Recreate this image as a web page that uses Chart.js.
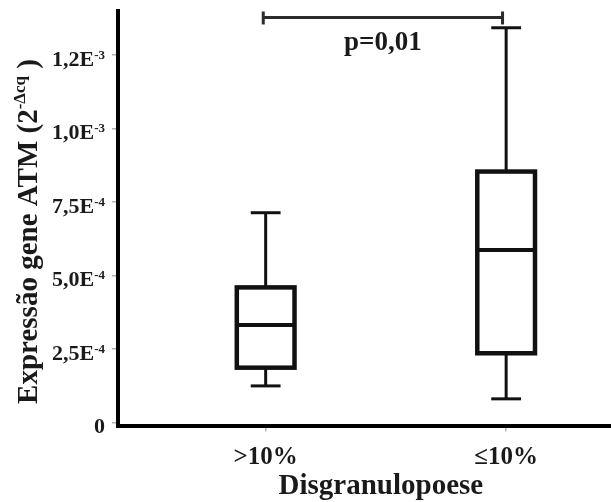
<!DOCTYPE html>
<html>
<head>
<meta charset="utf-8">
<script src="https://cdn.jsdelivr.net/npm/chart.js@4.4.1/dist/chart.umd.min.js"></script>
<style>
  html, body { margin: 0; padding: 0; background: #fff; }
  #wrap { width: 611px; height: 502px; position: relative; }
</style>
</head>
<body>
<div id="wrap"><canvas id="boxChart"></canvas></div>
<script>
// Data
const groups = ['>10%', '≤10%'];
const whiskerLow = [1.25e-4, 0.81e-4];
const q1 = [1.87e-4, 2.36e-4];
const median = [3.32e-4, 5.87e-4];
const q3 = [4.60e-4, 8.54e-4];
const whiskerHigh = [7.14e-4, 1.343e-3];

const yTicks = [0, 2.5e-4, 5.0e-4, 7.5e-4, 1.0e-3, 1.25e-3];
const yTickLabels = [['0', ''], ['2,5E', '-4'], ['5,0E', '-4'], ['7,5E', '-4'], ['1,0E', '-3'], ['1,2E', '-3']];

const xTitle = 'Disgranulopoese';
const pLabel = 'p=0,01';
const bracketFrom = -0.01;
const bracketTo = 0.985;
const bracketLevel = 1.378e-3;

const SERIF = '"Liberation Serif", "Times New Roman", serif';
const INK = '#1a1a1a';

// draws text made of pieces (normal + superscript) starting at x
function drawPieces(ctx, pieces, x, y) {
    pieces.forEach(p => {
        ctx.font = 'bold ' + p.size + 'px ' + SERIF;
        ctx.fillText(p.text, x, y - (p.raise || 0));
        x += ctx.measureText(p.text).width;
    });
}
function piecesWidth(ctx, pieces) {
    let w = 0;
    pieces.forEach(p => {
        ctx.font = 'bold ' + p.size + 'px ' + SERIF;
        w += ctx.measureText(p.text).width;
    });
    return w;
}

const boxPlot = {
    id: 'boxPlot',
    afterDatasetsDraw(chart) {
        const ctx = chart.ctx;
        const x = chart.scales.x;
        const y = chart.scales.y;
        ctx.save();
        ctx.strokeStyle = '#111';
        ctx.lineCap = 'butt';

        const line = (x1, y1, x2, y2) => {
            ctx.beginPath();
            ctx.moveTo(x1, y1);
            ctx.lineTo(x2, y2);
            ctx.stroke();
        };

        groups.forEach((g, i) => {
            const cx = x.getPixelForValue(i);
            const half = x.getPixelForValue(i + 0.12) - cx;
            const cap = x.getPixelForValue(i + 0.062) - cx;
            const yLo = y.getPixelForValue(whiskerLow[i]);
            const yQ1 = y.getPixelForValue(q1[i]);
            const yMed = y.getPixelForValue(median[i]);
            const yQ3 = y.getPixelForValue(q3[i]);
            const yHi = y.getPixelForValue(whiskerHigh[i]);

            // whiskers and caps
            ctx.lineWidth = 3;
            line(cx, yHi, cx, yQ3);
            line(cx, yQ1, cx, yLo);
            line(cx - cap, yHi, cx + cap, yHi);
            line(cx - cap, yLo, cx + cap, yLo);

            // box
            ctx.lineWidth = 4.5;
            ctx.fillStyle = '#fff';
            ctx.fillRect(cx - half, yQ3, half * 2, yQ1 - yQ3);
            ctx.strokeRect(cx - half, yQ3, half * 2, yQ1 - yQ3);

            // median
            ctx.lineWidth = 4;
            line(cx - half, yMed, cx + half, yMed);
        });

        // significance bracket
        const bx1 = x.getPixelForValue(bracketFrom);
        const bx2 = x.getPixelForValue(bracketTo);
        const by = y.getPixelForValue(bracketLevel);
        ctx.strokeStyle = '#2b2b2b';
        ctx.lineWidth = 3;
        line(bx1, by, bx2, by);
        line(bx1, by - 6, bx1, by + 7);
        line(bx2, by - 6, bx2, by + 7);

        ctx.fillStyle = INK;
        ctx.textAlign = 'center';
        ctx.textBaseline = 'alphabetic';
        ctx.font = 'bold 27px ' + SERIF;
        ctx.fillText(pLabel, (bx1 + bx2) / 2, by + 33);

        // x axis title, centred between the two groups
        ctx.font = 'bold 29px ' + SERIF;
        ctx.fillText(xTitle, (x.getPixelForValue(0) + x.getPixelForValue(1)) / 2 - 5, 494);

        // y tick labels with superscript exponents
        ctx.textAlign = 'left';
        yTicks.forEach((v, i) => {
            const py = y.getPixelForValue(v);
            const pieces = [
                { text: yTickLabels[i][0], size: 22 },
                { text: yTickLabels[i][1], size: 13, raise: 7 }
            ];
            const w = piecesWidth(ctx, pieces);
            drawPieces(ctx, pieces, 105 - w, py + 10.5);
        });

        // y axis title
        const title = [
            { text: 'Expressão gene ATM (2', size: 29 },
            { text: '-Δcq', size: 17, raise: 12 },
            { text: ' )', size: 29 }
        ];
        ctx.translate(37, 231.5);
        ctx.rotate(-Math.PI / 2);
        const tw = piecesWidth(ctx, title);
        drawPieces(ctx, title, -tw / 2, 0);
        ctx.restore();
    }
};

function initChart() {
    const ctx = document.getElementById('boxChart').getContext('2d');
    new Chart(ctx, {
        type: 'scatter',
        data: {
            datasets: [{
                label: 'Mediana',
                data: median.map((m, i) => ({ x: i, y: m })),
                pointRadius: 0,
                showLine: false
            }]
        },
        options: {
            responsive: true,
            maintainAspectRatio: false,
            animation: false,
            layout: { padding: { top: 11, right: 0, bottom: 0, left: 0 } },
            plugins: {
                legend: { display: false },
                tooltip: { enabled: false }
            },
            scales: {
                x: {
                    type: 'linear',
                    min: -0.614,
                    max: 1.436,
                    afterBuildTicks: s => { s.ticks = groups.map((g, i) => ({ value: i })); },
                    afterFit: s => { s.height = 76.4; },
                    border: { display: true, color: '#000', width: 4 },
                    grid: { drawOnChartArea: false, drawTicks: true, tickLength: 6, color: '#b0b0b0', lineWidth: 1.5 },
                    ticks: {
                        padding: 11,
                        color: INK,
                        font: { family: SERIF, size: 25, weight: 'bold' },
                        callback: (v, i) => groups[i]
                    },
                    title: { display: false }
                },
                y: {
                    min: -1e-5,
                    max: 1.4e-3,
                    afterBuildTicks: s => { s.ticks = yTicks.map(v => ({ value: v })); },
                    afterFit: s => { s.width = 118; },
                    border: { display: true, color: '#000', width: 4 },
                    grid: { drawOnChartArea: false, drawTicks: true, tickLength: 6, color: '#b0b0b0', lineWidth: 1.5 },
                    ticks: { display: false }
                }
            }
        },
        plugins: [boxPlot]
    });
}

document.addEventListener('DOMContentLoaded', initChart);
</script>
</body>
</html>
